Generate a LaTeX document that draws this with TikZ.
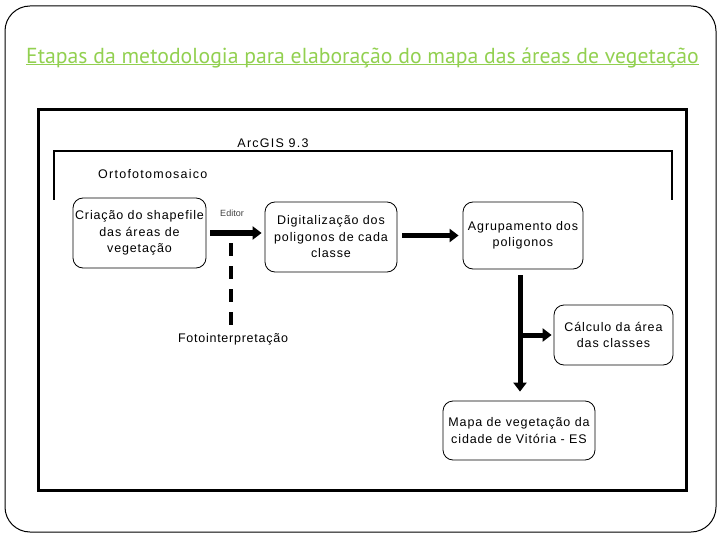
\documentclass[tikz,border=0pt]{standalone}
\usepackage{fontspec}
\setmainfont{Liberation Sans}
\newfontfamily\titlefont{PT Sans}
\newfontfamily\boxfont[LetterSpace=7]{Liberation Sans}
\newfontfamily\lblfont[LetterSpace=10]{Liberation Sans}
\newfontfamily\fotofont[LetterSpace=6]{Liberation Sans}
\usetikzlibrary{arrows.meta,calc}
\definecolor{titlegreen}{HTML}{92D050}
\begin{document}
\begin{tikzpicture}[x=1pt,y=-1pt,
  box/.style={draw,rounded corners=10pt,line width=0.8pt,align=center,
    font=\boxfont\fontsize{12.5}{16.5}\selectfont,inner sep=0pt},
  arr/.style={line width=5pt,-{Triangle[length=9pt,width=13pt]}},
  lbl/.style={font=\lblfont\fontsize{12.5}{15}\selectfont,inner sep=0pt}]
\useasboundingbox (0,0) rectangle (720,540);
\draw[rounded corners=25pt,line width=1pt] (5,6) rectangle (716,532);
\node[font=\titlefont\fontsize{21.7}{24}\selectfont,text=titlegreen,inner sep=0pt,anchor=base] (title) at (362.5,63.3)
  {Etapas da metodologia para elaboração do mapa das áreas de vegetação};
\draw[titlegreen,line width=1.4pt] ([yshift=-1.4pt]title.base west) -- ([yshift=-1.4pt]title.base east);
\draw[line width=3pt] (38,110) rectangle (686,490);
% ArcGIS bracket
\node[lbl] (arcgis) at (273,143) {ArcGIS 9.3};
\draw[line width=2pt] (54,200) -- (54,151) -- (672,151) -- (672,200);
\node[lbl,anchor=west] (orto) at (98,174) {Ortofotomosaico};
% boxes
\node[box,minimum width=133pt,minimum height=70pt] (b1) at (139.5,233)
  {Criação do shapefile\\das áreas de\\vegetação};
\node[box,minimum width=132pt,minimum height=70pt] (b2) at (331,237)
  {Digitalização dos\\poligonos de cada\\classe};
\node[box,minimum width=120pt,minimum height=67pt] (b3) at (523,235.5)
  {Agrupamento dos\\poligonos};
\node[box,minimum width=119pt,minimum height=60pt] (b4) at (613.5,335)
  {Cálculo da área\\das classes};
\node[box,minimum width=152pt,minimum height=59pt] (b5) at (519,430.5)
  {Mapa de vegetação da\\cidade de Vitória - ES};
\node[font=\fontsize{9}{10}\selectfont,text=black!75,inner sep=0pt] (ed) at (232,213) {Editor};
\node[font=\fotofont\fontsize{12.5}{15}\selectfont,inner sep=0pt] (foto) at (233,339) {Fotointerpretação};
% connectors
\draw[arr] ([xshift=4pt]b1.east) -- ([xshift=-3pt]b2.west |- b1.east);
\draw[arr] ([xshift=5pt]b2.east |- b3.west) -- ([xshift=-4pt]b3.west);
\coordinate (vtop) at ([shift={(-3pt,-6pt)}]b3.south);
\coordinate (vbot) at ([shift={(0pt,9pt)}]b5.north);
\draw[arr] (vtop) -- (vtop |- vbot);
\draw[arr] (vtop |- b4.west) -- ([xshift=-2pt]b4.west);
\coordinate (dtop) at (231,243);
\draw[line width=4pt,dash pattern=on 13pt off 10pt] (dtop) -- ([yshift=7pt]dtop |- foto.north);
\end{tikzpicture}
\end{document}
